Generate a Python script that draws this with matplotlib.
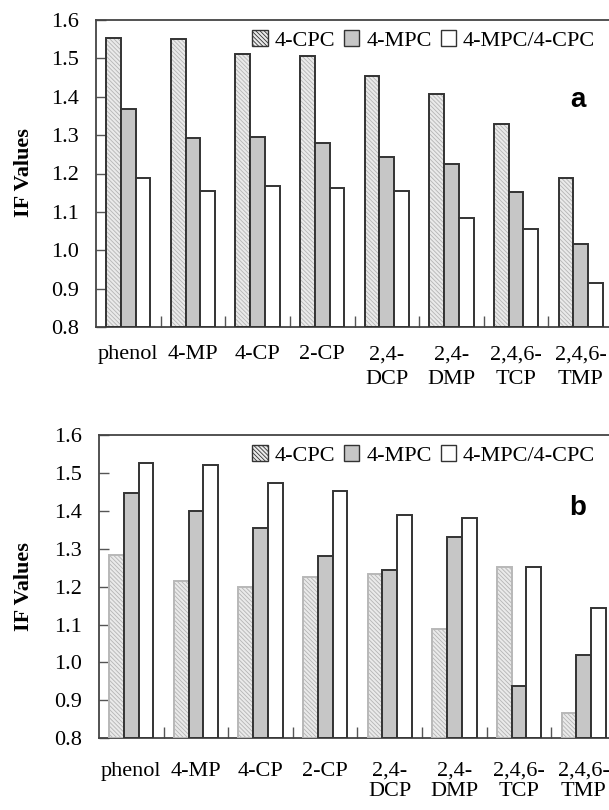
import matplotlib
matplotlib.use("Agg")
import matplotlib.pyplot as plt
import numpy as np
from matplotlib.patches import Patch

categories = ["phenol", "4-MP", "4-CP", "2-CP", "2,4-\nDCP", "2,4-\nDMP", "2,4,6-\nTCP", "2,4,6-\nTMP"]
series_names = ["4-CPC", "4-MPC", "4-MPC/4-CPC"]

a_cpc = [1.554, 1.551, 1.511, 1.506, 1.455, 1.408, 1.328, 1.188]
a_mpc = [1.368, 1.292, 1.296, 1.280, 1.244, 1.226, 1.152, 1.017]
a_ratio = [1.188, 1.155, 1.167, 1.162, 1.155, 1.085, 1.056, 0.915]

b_cpc = [1.283, 1.216, 1.200, 1.226, 1.233, 1.088, 1.253, 0.868]
b_mpc = [1.448, 1.400, 1.356, 1.282, 1.245, 1.330, 0.937, 1.019]
b_ratio = [1.527, 1.522, 1.474, 1.453, 1.389, 1.382, 1.253, 1.145]

yticks = [0.8, 0.9, 1.0, 1.1, 1.2, 1.3, 1.4, 1.5, 1.6]

SERIF = "Liberation Serif"
plt.rcParams["font.family"] = SERIF
plt.rcParams["hatch.linewidth"] = 0.6
plt.rcParams["hatch.color"] = "#b4b4b4"

W, H = 609, 810
fig = plt.figure(figsize=(W / 100, H / 100), dpi=100)

DARK = "#333333"
HATCH_BG = "#eaeaea"
MPC_C = "#c6c6c6"
FS = 16
HATCH = "\\" * 8


def panel(rect, cpc, mpc, ratio, letter, cpc_edge, linesp, lab_y, xpad):
    ax = fig.add_axes(rect)
    x = np.arange(len(categories))
    w = 0.228
    ax.bar(x - w, [v - 0.8 for v in cpc], w, bottom=0.8, color=HATCH_BG,
           edgecolor="#b4b4b4", hatch=HATCH, linewidth=0, zorder=2)
    ax.bar(x - w, [v - 0.8 for v in cpc], w, bottom=0.8, fill=False,
           edgecolor=cpc_edge, linewidth=1.4, zorder=3)
    ax.bar(x, [v - 0.8 for v in mpc], w, bottom=0.8, color=MPC_C,
           edgecolor=DARK, linewidth=1.4, zorder=3)
    ax.bar(x + w, [v - 0.8 for v in ratio], w, bottom=0.8, color="white",
           edgecolor=DARK, linewidth=1.4, zorder=3)
    ax.set_xlim(-0.5, len(categories) - 0.5)
    ax.set_ylim(0.8, 1.6)
    ax.set_yticks(yticks)
    ax.set_yticklabels([f"{t:.1f}" for t in yticks], fontsize=FS)
    ax.set_xticks(x)
    ax.set_xticklabels(categories, fontsize=FS, linespacing=linesp, va="top")
    ax.set_xticks(np.arange(0.5, len(categories) - 0.5, 1), minor=True)
    ax.tick_params(axis="x", which="major", length=0, pad=xpad)
    ax.tick_params(axis="x", which="minor", direction="in", length=8,
                   color="#555555", width=1)
    ax.tick_params(axis="y", direction="in", length=7, color="#555555",
                   width=1, pad=12)
    for s in ["left", "bottom", "top"]:
        ax.spines[s].set_color("#444444")
        ax.spines[s].set_linewidth(1.3)
    ax.spines["right"].set_visible(False)
    handles = [
        Patch(facecolor=HATCH_BG, edgecolor=DARK, hatch=HATCH, linewidth=1.0),
        Patch(facecolor=MPC_C, edgecolor=DARK, linewidth=1.0),
        Patch(facecolor="white", edgecolor=DARK, linewidth=1.0),
    ]
    ax.legend(handles, series_names, ncol=3, frameon=False, fontsize=16,
              loc="upper right",
              bbox_to_anchor=((605 - rect[0] * W) / (rect[2] * W), 1.0),
              handlelength=0.7, handleheight=0.7, handletextpad=0.3,
              columnspacing=0.4, borderaxespad=0.25, borderpad=0.2)
    ax.text(578 / W, lab_y, letter, transform=fig.transFigure, fontsize=20,
            fontweight="bold", family="Liberation Sans", ha="center", va="center")
    return ax


ax1 = panel([96 / W, 1 - 327 / H, 517 / W, 307 / H], a_cpc, a_mpc, a_ratio,
            "a", DARK, 1.45, 1 - 100 / H, 13)
ax2 = panel([99 / W, 1 - 738.3 / H, 517 / W, 303.3 / H], b_cpc, b_mpc, b_ratio,
            "b", "#b8b8b8", 1.05, 1 - 508 / H, 17)

fig.text(24 / W, 1 - 173 / H, "IF Values", rotation=90, fontsize=16,
         fontweight="bold", ha="center", va="center")
fig.text(24 / W, 1 - 587 / H, "IF Values", rotation=90, fontsize=16,
         fontweight="bold", ha="center", va="center")

fig.savefig("out.png", dpi=100)
